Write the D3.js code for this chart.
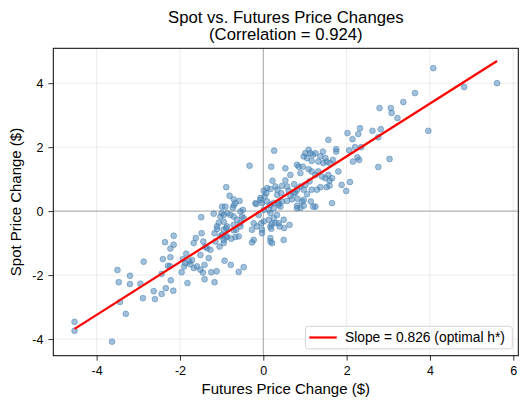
<!DOCTYPE html>
<html>
<head>
<meta charset="utf-8">
<script src="https://cdn.jsdelivr.net/npm/d3@7"></script>
<style>
  html, body { margin: 0; padding: 0; background: #fff; }
  svg { display: block; font-family: "Liberation Sans", Arial, sans-serif; }
</style>
</head>
<body>
<svg id="chart" width="528" height="409"></svg>
<script>
// ---- data ----
const futuresChange = [
  -4.53,-4.53,-3.63,-3.50,-3.47,-3.44,-3.30,-3.20,-3.20,-2.87,-2.95,-2.89,-2.63,-2.60,-2.44,-2.44,-2.34,-2.29,-2.24,-2.22,-2.16,-2.23,-2.36,-2.23,-2.15,-2.15,-2.41,
  -1.96,-1.82,-1.85,-1.90,-1.78,-1.67,-1.62,-1.48,-1.49,-1.44,-1.51,-1.59,-1.45,-1.41,-1.41,-1.31,-1.25,-1.17,-1.12,-1.35,-1.19,-1.17,-1.11,-1.03,-1.05,-0.99,-0.95,-0.93,-0.78,-0.59,-0.47,
  -1.93,-1.87,-1.75,-1.71,-1.67,-1.51,-1.27,-1.39,-1.15,-0.95,-0.89,-1.03,-1.07,-1.11,-0.89,-0.95,-1.00,-0.86,
  -0.89,-0.81,-0.71,-0.57,-0.67,-0.91,-0.71,-0.73,-0.49,-0.55,-0.51,-0.79,-0.47,-0.55,-0.63,-0.71,-0.71,-0.65,-0.59,-0.67,-0.87,-0.95,-0.99,-0.87,-0.77,-0.95,-0.55,-0.71,
  -0.33,0.26,0.19,0.22,0.09,0.29,0.17,0.34,0.45,0.57,0.43,0.33,0.61,0.03,0.07,0.01,0.09,0.17,0.25,0.25,0.13,-0.19,-0.07,-0.07,-0.17,-0.03,0.37,0.45,0.41,0.57,0.37,0.01,
  0.17,0.25,0.33,-0.11,-0.23,-0.15,-0.27,-0.05,-0.03,0.01,-0.03,0.13,0.17,0.21,0.29,0.37,0.39,0.63,0.49,0.50,0.17,-0.23,-0.27,0.49,0.21,0.17,0.19,
  0.53,0.81,0.65,0.53,0.74,0.77,0.65,0.69,0.81,0.85,0.95,0.89,1.09,1.01,1.13,1.19,1.25,1.05,1.16,0.97,1.43,1.37,1.49,1.52,1.60,1.67,1.44,1.32,1.09,1.16,1.32,1.25,1.41,1.56,1.49,1.59,1.65,
  1.52,1.37,1.29,1.11,1.01,0.89,0.81,0.73,0.97,1.16,1.05,0.97,0.82,0.93,1.14,0.97,1.25,0.81,0.89,1.20,1.65,1.59,
  1.75,1.75,2.06,2.20,2.35,2.26,2.30,2.15,1.80,2.08,1.88,1.99,1.56,2.02,2.14,2.28,2.32,2.62,2.82,2.76,2.79,3.06,3.08,3.22,3.36,3.64,3.96,4.08,4.82,5.61,3.03,2.76
];
const spotChange = [
  -3.46,-3.74,-4.08,-1.84,-2.22,-2.84,-3.21,-2.02,-2.28,-1.58,-2.27,-2.72,-2.50,-2.75,-2.59,-1.96,-2.41,-1.71,-1.72,-2.16,-2.49,-1.44,-0.97,-1.17,-1.05,-0.77,-1.50,
  -1.91,-2.25,-1.33,-1.73,-1.57,-1.00,-0.84,-0.69,-0.19,-0.95,-1.37,-1.73,-1.92,-1.68,-2.13,-1.47,-1.91,-2.22,-1.88,-1.16,-0.08,-0.69,-0.48,-0.79,-1.11,0.14,-0.12,-1.55,-1.68,-1.90,-1.75,
  -1.50,-1.63,-1.66,-1.53,-1.78,-1.83,-1.21,-1.11,-0.95,-1.00,-0.82,-0.17,-0.36,-0.56,-0.53,-0.33,-0.06,-0.06,
  0.75,0.48,0.37,0.32,0.25,0.14,0.18,0.10,0.04,-0.01,-0.17,-0.12,-0.22,-0.38,-0.27,-0.17,-0.43,-0.58,-0.79,-0.81,-0.48,-0.58,-0.74,-0.79,-0.86,-0.90,-0.48,-0.60,
  1.42,1.89,1.39,0.95,0.72,0.77,0.69,0.67,0.79,0.77,0.56,0.51,0.64,0.46,0.56,0.64,0.30,0.20,0.25,0.09,0.04,0.25,0.35,0.41,0.22,0.25,0.20,0.30,0.14,0.32,0.25,0.04,
  -0.06,-0.22,-0.12,-0.12,-0.38,-0.48,-0.58,-0.38,-0.58,-0.32,-0.69,-0.27,-0.48,-0.40,-0.37,-0.38,-0.48,-0.43,-0.27,-0.53,-0.84,-0.90,-0.98,-0.90,-1.00,-0.95,-0.55,
  1.34,1.45,1.13,0.96,0.84,0.58,0.48,0.37,0.09,1.39,1.39,1.19,1.92,1.81,1.81,1.76,1.81,1.66,1.57,1.71,1.86,1.71,1.66,1.55,1.50,1.60,1.50,1.55,1.31,1.24,1.24,1.13,1.08,1.13,1.03,0.95,1.03,
  0.75,0.75,0.67,0.93,0.82,0.77,0.67,0.56,0.67,0.67,0.53,0.35,0.39,0.30,0.30,0.17,0.14,0.17,0.10,0.14,0.25,0.80,
  1.94,1.86,1.90,2.00,2.00,1.68,1.60,1.55,1.24,0.91,0.82,0.63,2.23,2.44,2.25,2.41,2.59,2.51,2.56,2.31,3.22,3.22,3.07,2.91,3.41,3.69,2.51,4.47,3.88,4.00,1.63,1.38
];
const xTickValues = [-4, -2, 0, 2, 4, 6];
const yTickValues = [-4, -2, 0, 2, 4];
const hedgeSlope = 0.826;
const hedgeIntercept = 0.06;
const correlation = 0.924;
const titleLines = ["Spot vs. Futures Price Changes", "(Correlation = " + correlation.toFixed(3) + ")"];
const xLabel = "Futures Price Change ($)";
const yLabel = "Spot Price Change ($)";
const legendLabel = "Slope = " + hedgeSlope.toFixed(3) + " (optimal h*)";

// ---- layout ----
const svg = d3.select("#chart");
const plot = { left: 53.3, right: 518.3, top: 48.3, bottom: 355.7 };
const x = d3.scaleLinear().domain([-5.04, 6.12]).range([plot.left, plot.right]);
const y = d3.scaleLinear().domain([-4.52, 5.09]).range([plot.bottom, plot.top]);
const fmt = d => String(d);

// grid
const grid = svg.append("g");
grid.selectAll("line.gx").data(xTickValues).join("line")
  .attr("x1", d => x(d)).attr("x2", d => x(d))
  .attr("y1", plot.top).attr("y2", plot.bottom)
  .attr("stroke", "#b0b0b0").attr("stroke-opacity", 0.3).attr("stroke-width", 0.8);
grid.selectAll("line.gy").data(yTickValues).join("line")
  .attr("y1", d => y(d)).attr("y2", d => y(d))
  .attr("x1", plot.left).attr("x2", plot.right)
  .attr("stroke", "#b0b0b0").attr("stroke-opacity", 0.3).attr("stroke-width", 0.8);

// zero lines
svg.append("line").attr("x1", plot.left).attr("x2", plot.right)
  .attr("y1", y(0)).attr("y2", y(0))
  .attr("stroke", "#808080").attr("stroke-width", 0.8).attr("stroke-opacity", 0.8);
svg.append("line").attr("y1", plot.top).attr("y2", plot.bottom)
  .attr("x1", x(0)).attr("x2", x(0))
  .attr("stroke", "#808080").attr("stroke-width", 0.8).attr("stroke-opacity", 0.8);

// points
const pts = futuresChange.map((f, i) => ({ f, s: spotChange[i] }));
svg.append("g").selectAll("circle").data(pts).join("circle")
  .attr("cx", d => x(d.f)).attr("cy", d => y(d.s)).attr("r", 2.9)
  .attr("fill", "steelblue").attr("fill-opacity", 0.5)
  .attr("stroke", "steelblue").attr("stroke-opacity", 0.5).attr("stroke-width", 1);

// regression line
const xExt = d3.extent(futuresChange);
const lineData = xExt.map(v => ({ f: v, s: hedgeIntercept + hedgeSlope * v }));
svg.append("path").datum(lineData)
  .attr("d", d3.line().x(d => x(d.f)).y(d => y(d.s)))
  .attr("fill", "none").attr("stroke", "red").attr("stroke-width", 2.2);

// axes
const xAxis = svg.append("g").attr("transform", `translate(0,${plot.bottom})`)
  .call(d3.axisBottom(x).tickValues(xTickValues).tickFormat(fmt).tickSizeOuter(0).tickSizeInner(4.9).tickPadding(6));
const yAxis = svg.append("g").attr("transform", `translate(${plot.left},0)`)
  .call(d3.axisLeft(y).tickValues(yTickValues).tickFormat(fmt).tickSizeOuter(0).tickSizeInner(4.9).tickPadding(5));
[xAxis, yAxis].forEach(g => {
  g.select(".domain").remove();
  g.selectAll(".tick line").attr("stroke", "#000").attr("stroke-width", 0.8);
  g.selectAll(".tick text").attr("fill", "#000").style("font-size", "12.5px")
    .style("font-family", '"Liberation Sans", Arial, sans-serif');
});

// frame
svg.append("rect").attr("x", plot.left).attr("y", plot.top)
  .attr("width", plot.right - plot.left).attr("height", plot.bottom - plot.top)
  .attr("fill", "none").attr("stroke", "#000").attr("stroke-width", 1);

// title
const cx = (plot.left + plot.right) / 2;
svg.append("text").attr("x", cx).attr("y", 22.7).attr("text-anchor", "middle")
  .style("font-size", "16.7px").text(titleLines[0]);
svg.append("text").attr("x", cx).attr("y", 40).attr("text-anchor", "middle")
  .style("font-size", "16.7px").text(titleLines[1]);

// axis labels
svg.append("text").attr("x", cx).attr("y", 394.3).attr("text-anchor", "middle")
  .style("font-size", "15px").text(xLabel);
svg.append("text").attr("transform", `translate(20.5,${(plot.top + plot.bottom) / 2}) rotate(-90)`)
  .attr("text-anchor", "middle").style("font-size", "15px").text(yLabel);

// legend
const lg = svg.append("g");
lg.append("rect").attr("x", 305.5).attr("y", 326.3).attr("width", 206.8).attr("height", 22.5)
  .attr("rx", 2.5).attr("fill", "#fff").attr("fill-opacity", 0.8)
  .attr("stroke", "#cccccc").attr("stroke-width", 0.8);
lg.append("line").attr("x1", 309.3).attr("x2", 336.7).attr("y1", 337.5).attr("y2", 337.5)
  .attr("stroke", "red").attr("stroke-width", 2.2);
lg.append("text").attr("x", 345).attr("y", 342).style("font-size", "13.8px").text(legendLabel);
</script>
</body>
</html>
